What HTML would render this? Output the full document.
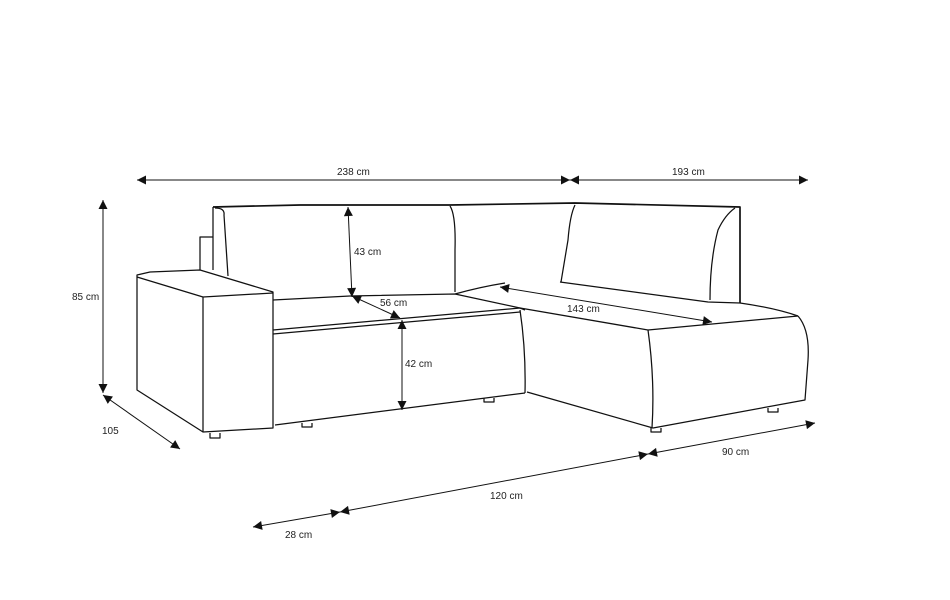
<!DOCTYPE html>
<html><head><meta charset="utf-8"><style>
html,body{margin:0;padding:0;background:#fff;}
svg{display:block;}
text{font-family:"Liberation Sans",sans-serif;font-size:10px;fill:#222;}
</style></head><body>
<svg width="950" height="600" viewBox="0 0 950 600" xmlns="http://www.w3.org/2000/svg">
<defs>
<marker id="a" viewBox="0 0 10 10" refX="10" refY="5" markerWidth="13" markerHeight="9" markerUnits="userSpaceOnUse" orient="auto-start-reverse"><path d="M0,0 L10,5 L0,10 z" fill="#111"/></marker>
</defs>
<g stroke="#111" stroke-width="1" fill="none" marker-start="url(#a)" marker-end="url(#a)">
<line x1="137" y1="180" x2="570" y2="180"/>
<line x1="570" y1="180" x2="808" y2="180"/>
<line x1="103" y1="200" x2="103" y2="393"/>
<line x1="103" y1="395" x2="180" y2="449"/>
<line x1="253" y1="527" x2="340" y2="512"/>
<line x1="340" y1="512" x2="648" y2="454"/>
<line x1="648" y1="454" x2="815" y2="423"/>
<line x1="348" y1="207" x2="352" y2="297"/>
<line x1="352" y1="296" x2="400" y2="318"/>
<line x1="402" y1="320" x2="402" y2="410"/>
<line x1="500" y1="287" x2="712" y2="322"/>
</g>
<g>
<text x="337" y="175">238 cm</text>
<text x="672" y="175">193 cm</text>
<text x="72" y="300">85 cm</text>
<text x="102" y="434">105</text>
<text x="285" y="538">28 cm</text>
<text x="490" y="499">120 cm</text>
<text x="722" y="455">90 cm</text>
<text x="354" y="255">43 cm</text>
<text x="380" y="306">56 cm</text>
<text x="405" y="367">42 cm</text>
<text x="567" y="312">143 cm</text>
</g>
<g stroke="#111" stroke-width="1.25" fill="none" stroke-linejoin="round">
<path d="M213,207 L300,205 L450,205 L575,203 L740,207 L740,303" stroke-width="1.7"/>
<path d="M213,207 L213,270"/>
<path d="M213,237 L200,237 L200,270"/>
<path d="M215,208 Q225,208 224,215 L228,276"/>
<path d="M450,206 Q456,215 455,250 L455,292"/>
<path d="M575,205 Q570,215 568,240 L561,282"/>
<path d="M735,208 Q725,215 718,230 Q710,260 710,300"/>
<path d="M137,275 L150,272 L200,270 L273,292 L273,428 L203,432 L137,390 Z"/>
<path d="M137,277 L203,297 L273,293"/>
<path d="M203,297 L203,432"/>
<path d="M273,300 L350,296 L455,294 L520,308"/>
<path d="M273,330 L520,308 L525,310"/>
<path d="M273,334 L520,312"/>
<path d="M275,425 L525,393"/>
<path d="M520,310 Q526,350 525,393"/>
<path d="M455,294 Q480,287 505,283"/>
<path d="M560,282 L708,302 L740,303 Q775,308 798,316"/>
<path d="M520,308 L648,330 L798,316"/>
<path d="M798,316 Q810,330 808,360 L805,400 L653,428 L527,392"/>
<path d="M648,330 Q655,380 652,428"/>
<path d="M210,433 L210,438 L220,438 L220,433"/>
<path d="M302,423 L302,427 L312,427 L312,423"/>
<path d="M484,398 L484,402 L494,402 L494,398"/>
<path d="M651,428 L651,432 L661,432 L661,428"/>
<path d="M768,408 L768,412 L778,412 L778,408"/>
</g>
</svg>
</body></html>
